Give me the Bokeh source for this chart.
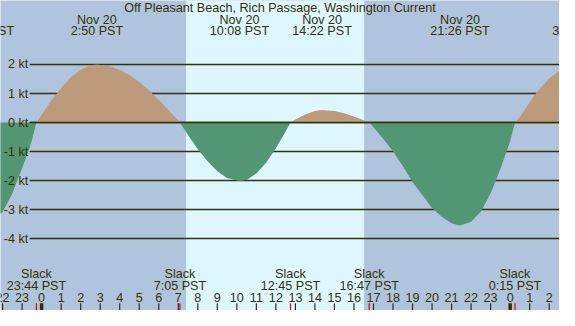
from bokeh.plotting import figure
from bokeh.models import BoxAnnotation, Range1d
from bokeh.core.properties import value
from bokeh.embed import file_html
from bokeh.resources import INLINE

# ---------------- data ----------------
title = "Off Pleasant Beach, Rich Passage, Washington Current"

# hours after midnight Nov 20 (PST); negative = Nov 19, >24 = Nov 21
hours = [-3.0, -2.5, -2.0, -1.5, -1.25, -1.0, -0.68, -0.5, -0.267,
         0.0, 0.5, 1.0, 1.5, 2.0, 2.5, 2.85, 3.5, 4.0, 4.5, 5.0, 5.5, 6.0, 6.5, 7.083,
         7.5, 8.0, 8.5, 9.0, 9.5, 10.13, 10.5, 11.0, 11.5, 12.0, 12.5, 12.75,
         13.0, 13.5, 14.0, 14.37, 15.0, 15.5, 16.0, 16.5, 16.783,
         17.0, 17.5, 18.0, 18.5, 19.0, 19.5, 20.0, 20.5, 21.0, 21.43, 22.0, 22.5,
         23.0, 23.5, 24.0, 24.25,
         24.5, 25.0, 25.32, 25.5, 26.0, 26.5, 27.0]
speed_kt = [-3.40, -3.34, -3.09, -2.45, -2.0, -1.58, -1.0, -0.62, 0.0,
            0.27, 0.76, 1.19, 1.56, 1.82, 1.97, 2.0, 1.94, 1.82, 1.64, 1.40, 1.11, 0.78, 0.43, 0.0,
            -0.43, -0.92, -1.34, -1.68, -1.91, -2.02, -1.98, -1.76, -1.39, -0.89, -0.31, 0.0,
            0.10, 0.28, 0.40, 0.43, 0.40, 0.32, 0.21, 0.08, 0.0,
            -0.16, -0.56, -1.0, -1.5, -2.05, -2.5, -2.95, -3.25, -3.47, -3.55, -3.42, -3.08,
            -2.45, -1.6, -0.65, 0.0,
            0.2, 0.7, 1.0, 1.15, 1.52, 1.78, 1.93]

sunrise_h = 7.40
sunset_h = 16.52

# maximum-current events (the first and last lie partly off the chart;
# their date lines are not visible in the picture)
max_times = [-2.93, 2.833, 10.133, 14.367, 21.433, 27.5]
max_dates = ["", "Nov 20", "Nov 20", "Nov 20", "Nov 20", ""]
max_labels = ["21:05 PST", "2:50 PST", "10:08 PST", "14:22 PST", "21:26 PST", "3:30 PST"]

slack_times = [-0.267, 7.083, 12.75, 16.783, 24.25]
slack_labels = ["23:44 PST", "7:05 PST", "12:45 PST", "16:47 PST", "0:15 PST"]

kt_ticks = [2, 1, 0, -1, -2, -3, -4]
kt_labels = ["2 kt", "1 kt", "0 kt", "-1 kt", "-2 kt", "-3 kt", "-4 kt"]

hour_ticks = [-2, -1, 0, 1, 2, 3, 4, 5, 6, 7, 8, 9, 10, 11, 12, 13, 14, 15, 16,
              17, 18, 19, 20, 21, 22, 23, 24, 25, 26]
hour_labels = ["22", "23", "0", "1", "2", "3", "4", "5", "6", "7", "8", "9", "10",
               "11", "12", "13", "14", "15", "16", "17", "18", "19", "20", "21",
               "22", "23", "0", "1", "2"]
midnights = [0, 24]

# ---------------- layout (reference pixel geometry) ----------------
REF_W, REF_H = 575, 326
X0_PX, PX_PER_H = 42.3, 20.08
Y0_PX, PX_PER_KT = 128.3, 30.5


def tx(px):
    return (px - X0_PX) / PX_PER_H


def vy(py):
    return (Y0_PX - py) / PX_PER_KT


W, H = 559, 310
DARK = "#b0c4de"
LIGHT = "#ddf6ff"
FLOOD = "#bc9a7a"
EBB = "#529673"
INK = "#333300"
FONT = value("Liberation Sans")
FS = "12.6px"

p = figure(width=W, height=H, output_backend="svg", toolbar_location=None,
           x_range=Range1d(tx(0), tx(REF_W)), y_range=Range1d(vy(REF_H), vy(0)),
           x_axis_type=None, y_axis_type=None, min_border=0,
           background_fill_color=DARK, border_fill_color=DARK,
           outline_line_color=None)
p.grid.visible = False

p.add_layout(BoxAnnotation(left=sunrise_h, right=sunset_h, fill_color=LIGHT,
                           fill_alpha=1.0, line_color=None, level="underlay"))

# grid lines (under the fills)
x_end = tx(REF_W) + 1
p.segment(x0=[tx(30)] * len(kt_ticks), y0=kt_ticks, x1=[x_end] * len(kt_ticks),
          y1=kt_ticks, line_color=INK, line_width=1.3)

flood = [max(s, 0.0) for s in speed_kt]
ebb = [min(s, 0.0) for s in speed_kt]
zeros = [0.0] * len(hours)
p.varea(x=hours, y1=zeros, y2=flood, fill_color=FLOOD)
p.varea(x=hours, y1=zeros, y2=ebb, fill_color=EBB)

# zero line on top
p.segment(x0=[tx(30)], y0=[0], x1=[x_end], y1=[0], line_color=INK, line_width=1.3)

# y labels
p.text(x=[tx(28.5)] * len(kt_ticks), y=kt_ticks, text=kt_labels, text_align="right",
       text_baseline="middle", text_font=FONT, text_font_size=FS, text_color=INK)

# title
p.text(x=[tx(REF_W / 2)], y=[vy(7.5)], text=[title], text_align="center",
       text_baseline="middle", text_font=FONT, text_font_size=FS, text_color=INK)

# max current labels at top
p.text(x=max_times, y=[vy(20)] * len(max_times), text=max_dates, text_align="center",
       text_baseline="middle", text_font=FONT, text_font_size=FS, text_color=INK)
p.text(x=max_times, y=[vy(32)] * len(max_times), text=max_labels, text_align="center",
       text_baseline="middle", text_font=FONT, text_font_size=FS, text_color=INK)

# slack labels at bottom
p.text(x=slack_times, y=[vy(288)] * len(slack_times), text=["Slack"] * len(slack_times),
       text_align="center", text_baseline="middle", text_font=FONT, text_font_size=FS,
       text_color=INK)
p.text(x=slack_times, y=[vy(300)] * len(slack_times), text=slack_labels,
       text_align="center", text_baseline="middle", text_font=FONT, text_font_size=FS,
       text_color=INK)

# hour labels and ticks
p.text(x=hour_ticks, y=[vy(312.5)] * len(hour_ticks), text=hour_labels,
       text_align="center", text_baseline="middle", text_font=FONT, text_font_size=FS,
       text_color=INK)
p.segment(x0=hour_ticks, y0=[vy(318.5)] * len(hour_ticks), x1=hour_ticks,
          y1=[vy(REF_H + 2)] * len(hour_ticks), line_color=INK, line_width=1.2)
p.segment(x0=midnights, y0=[vy(318.5)] * 2, x1=midnights, y1=[vy(REF_H + 2)] * 2,
          line_color=INK, line_width=3.5)
p.segment(x0=slack_times, y0=[vy(318.5)] * len(slack_times), x1=slack_times,
          y1=[vy(REF_H + 2)] * len(slack_times), line_color="#e00000", line_width=1.2)

open("out.html", "w").write(file_html(p, INLINE))
